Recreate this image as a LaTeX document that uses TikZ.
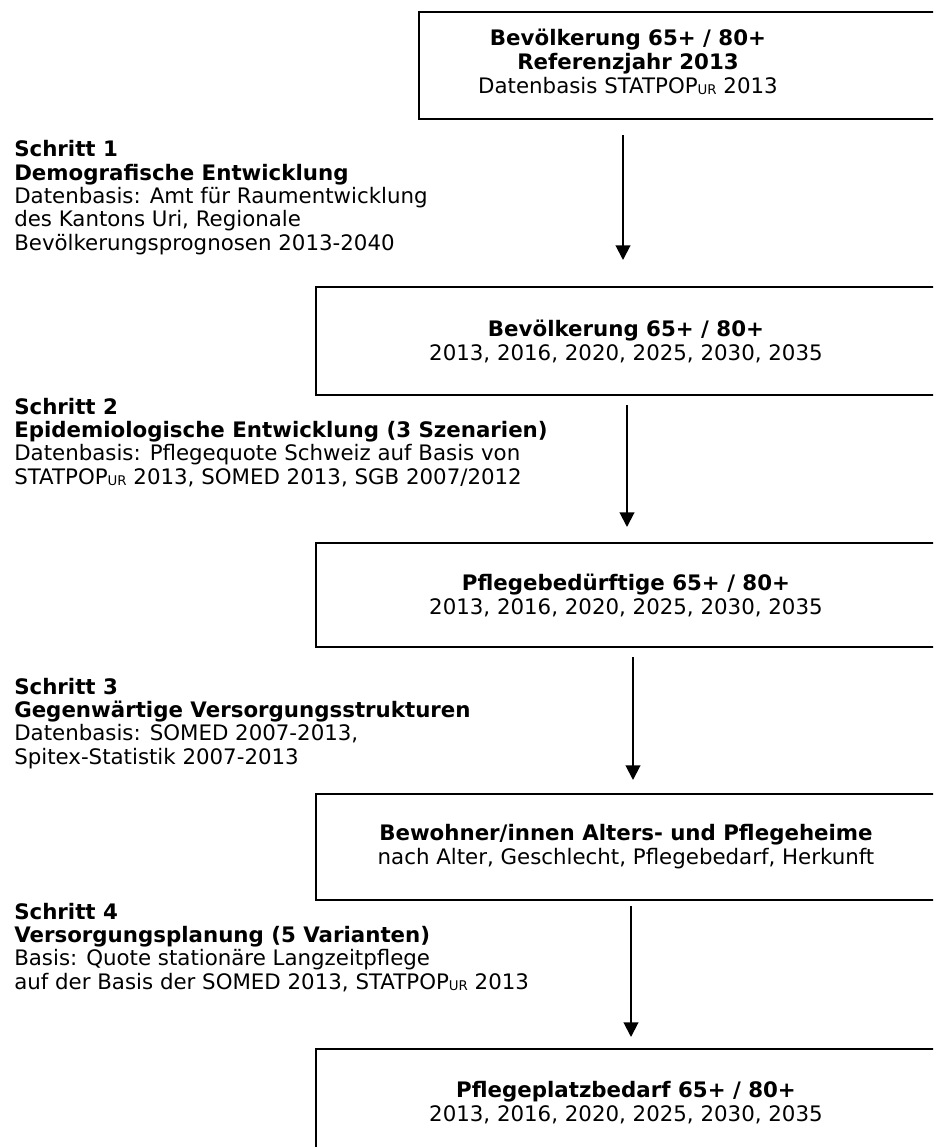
\documentclass[tikz,border=0pt]{standalone}
\usepackage{fontspec}
\setmainfont{DejaVu Sans}
\usetikzlibrary{arrows.meta}
\newcommand{\ur}{\raisebox{-0.8pt}{\fontsize{10}{10}\selectfont UR}}
\tikzset{
  box/.style={draw, line width=1.5pt, inner sep=0pt, align=center,
    minimum width=465pt, font=\fontsize{16}{18}\selectfont},
  boxtext/.style={inner sep=0pt, align=center, font=\fontsize{16}{18}\selectfont},
  steptext/.style={anchor=base west, inner sep=0pt, align=left,
    font=\fontsize{16}{17.44}\selectfont},
  arr/.style={line width=1.5pt, -{Triangle[width=11pt,length=11pt]}}
}
\begin{document}
\begin{tikzpicture}[x=0.75pt,y=-0.75pt]
\useasboundingbox (0,0) rectangle (933,1147);
\clip (0,0) rectangle (933,1147);
\fill[white] (0,0) rectangle (933,1147);

\node[draw, line width=1.5pt, minimum width=387.75pt, minimum height=80.25pt] (b1) at (677.5,65.5) {};
\node[boxtext] (b1t) at (628,62)
  {\textbf{Bevölkerung 65+ / 80+}\\\textbf{Referenzjahr 2013}\\Datenbasis STATPOP\ur{} 2013};
\node[box, minimum height=81pt] (b2) at (626,341)
  {\textbf{Bevölkerung 65+ / 80+}\\2013, 2016, 2020, 2025, 2030, 2035};
\node[box, minimum height=78pt] (b3) at (626,595)
  {\textbf{Pflegebedürftige 65+ / 80+}\\2013, 2016, 2020, 2025, 2030, 2035};
\node[box, minimum height=79.5pt] (b4) at (626,847)
  {\textbf{Bewohner/innen Alters- und Pflegeheime}\\nach Alter, Geschlecht, Pflegebedarf, Herkunft};
\node[box, minimum height=81pt] (b5) at (626,1103)
  {\textbf{Pflegeplatzbedarf 65+ / 80+}\\2013, 2016, 2020, 2025, 2030, 2035};

\node[steptext] (s1) at (14,250)
  {\textbf{Schritt 1}\\\textbf{Demografische Entwicklung}\\Datenbasis: Amt für Raumentwicklung\\des Kantons Uri, Regionale\\Bevölkerungsprognosen 2013-2040};
\node[steptext] (s2) at (14,484)
  {\textbf{Schritt 2}\\\textbf{Epidemiologische Entwicklung (3 Szenarien)}\\Datenbasis: Pflegequote Schweiz auf Basis von\\STATPOP\ur{} 2013, SOMED 2013, SGB 2007/2012};
\node[steptext] (s3) at (14,764)
  {\textbf{Schritt 3}\\\textbf{Gegenwärtige Versorgungsstrukturen}\\Datenbasis: SOMED 2007-2013,\\Spitex-Statistik 2007-2013};
\node[steptext] (s4) at (14,989)
  {\textbf{Schritt 4}\\\textbf{Versorgungsplanung (5 Varianten)}\\Basis: Quote stationäre Langzeitpflege\\auf der Basis der SOMED 2013, STATPOP\ur{} 2013};

\coordinate (a1s) at (623,135);  \coordinate (a1e) at (623,260);
\coordinate (a2s) at (627,405);  \coordinate (a2e) at (627,527);
\coordinate (a3s) at (633,657);  \coordinate (a3e) at (633,780);
\coordinate (a4s) at (631,906);  \coordinate (a4e) at (631,1037);
\draw[arr] (a1s) -- (a1e);
\draw[arr] (a2s) -- (a2e);
\draw[arr] (a3s) -- (a3e);
\draw[arr] (a4s) -- (a4e);
\end{tikzpicture}
\end{document}
